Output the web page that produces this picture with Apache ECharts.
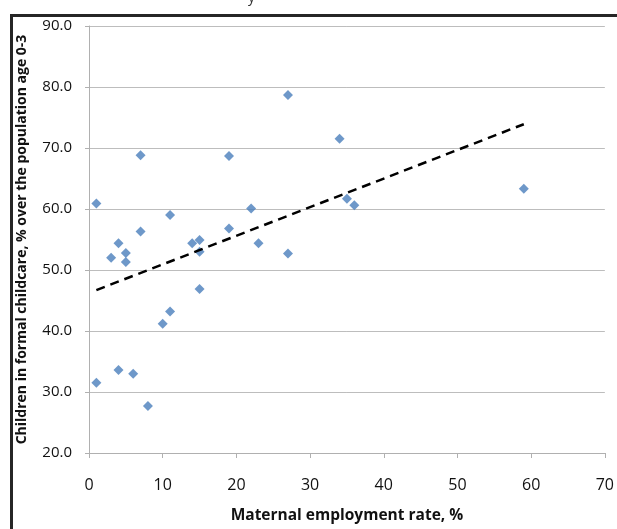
<!DOCTYPE html>
<html>
<head>
<meta charset="utf-8">
<script src="https://cdn.jsdelivr.net/npm/echarts@6/dist/echarts.min.js"></script>
<style>
html,body{margin:0;padding:0;background:#fff;}
#chart{width:617px;height:529px;}
</style>
</head>
<body>
<div id="chart"></div>
<script>
// Data
var employmentRate = [1, 1, 3, 4, 4, 5, 5, 6, 7, 7, 8, 10, 11, 11, 14, 15, 15, 15, 19, 19, 22, 23, 27, 27, 34, 35, 36, 59];
var childcareRate = [60.9, 31.5, 52.0, 54.4, 33.6, 52.8, 51.3, 33.0, 68.8, 56.3, 27.7, 41.2, 43.2, 59.0, 54.4, 54.9, 53.0, 46.9, 68.7, 56.8, 60.1, 54.4, 78.7, 52.7, 71.5, 61.7, 60.6, 63.3];
var trendX = [1, 59];
var trendY = [46.7, 73.9];
var xTicks = [0, 10, 20, 30, 40, 50, 60, 70];
var yTicks = [20, 30, 40, 50, 60, 70, 80, 90];
var xTitle = 'Maternal employment rate, %';
var yTitle = 'Children in formal childcare, % over the population age 0-3';

var scatterData = employmentRate.map(function (x, i) { return [x, childcareRate[i]]; });
var trendData = trendX.map(function (x, i) { return [x, trendY[i]]; });

var FONT = '"Open Sans", "Liberation Sans", sans-serif';
var chart = echarts.init(document.getElementById('chart'), null, {renderer: 'canvas'});
chart.setOption({
  animation: false,
  backgroundColor: '#ffffff',
  graphic: [
    {type: 'rect', left: 9, top: 13, shape: {x: 0, y: 0, width: 700, height: 600},
     style: {fill: 'none', stroke: '#262626', lineWidth: 3}, z: 100},
    {type: 'text', left: 248, top: -9, style: {text: 'y', font: '14px ' + FONT, fill: '#333'}}
  ],
  grid: {left: 89, right: 12, top: 26, bottom: 74, containLabel: false},
  xAxis: {
    type: 'value', min: xTicks[0], max: xTicks[xTicks.length - 1], interval: 10,
    name: xTitle, nameLocation: 'middle', nameGap: 55,
    nameTextStyle: {fontFamily: FONT, fontSize: 15.5, fontWeight: 'bold', color: '#111'},
    axisLine: {show: true, lineStyle: {color: '#b0b0b0', width: 1}},
    axisTick: {show: true, length: 5, inside: false, lineStyle: {color: '#b0b0b0'}},
    axisLabel: {margin: 24, fontFamily: FONT, fontSize: 16, color: '#111'},
    splitLine: {show: false}
  },
  yAxis: {
    type: 'value', min: yTicks[0], max: yTicks[yTicks.length - 1], interval: 10,
    name: yTitle, nameLocation: 'middle', nameGap: 60,
    nameTextStyle: {fontFamily: FONT, fontSize: 14, fontWeight: 'bold', color: '#111'},
    axisLine: {show: true, lineStyle: {color: '#b0b0b0', width: 1}},
    axisTick: {show: true, length: 4, lineStyle: {color: '#b0b0b0'}},
    axisLabel: {margin: 17, fontFamily: FONT, fontSize: 15, color: '#111',
      formatter: function (v) { return v.toFixed(1); }},
    splitLine: {show: true, lineStyle: {color: '#bdbdbd', width: 1}}
  },
  series: [
    {type: 'scatter', data: scatterData, symbol: 'diamond', symbolSize: 10,
     itemStyle: {color: '#4a7ebb'}, z: 3},
    {type: 'line', data: trendData, symbol: 'none', silent: true,
     lineStyle: {color: '#000000', width: 2.5, type: [9, 6]}, z: 4}
  ]
});
</script>
</body>
</html>
